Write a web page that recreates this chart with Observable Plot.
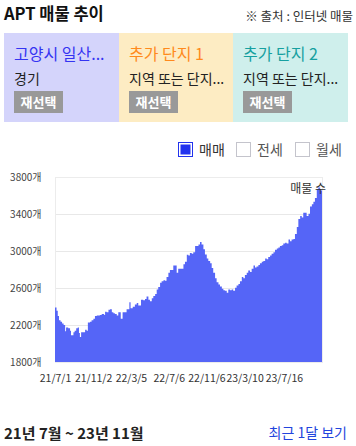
<!DOCTYPE html>
<html><head><meta charset="utf-8">
<script src="https://cdn.jsdelivr.net/npm/d3@7"></script>
<script src="https://cdn.jsdelivr.net/npm/@observablehq/plot@0.6"></script>
<style>
body{margin:0;width:356px;height:446px;position:relative;font-family:"Noto Sans CJK KR","Noto Sans",sans-serif;background:#fff;overflow:hidden;color:#222}
.abs{position:absolute;white-space:nowrap;line-height:1}
.card{position:absolute;top:33px;height:89px}
.btn{position:absolute;left:10px;top:58px;width:49px;height:22px;background:#999;color:#fff;font-weight:bold;font-size:13px;line-height:22px;text-align:center}
.box{position:absolute;top:142px;width:13px;height:13px;border:1px solid #c4c4cc;background:#fff}
#chart{position:absolute;left:0;top:165px}
</style></head>
<body>
<div class="abs" style="left:4px;top:5px;font-size:16.5px;font-weight:bold;color:#111">APT 매물 추이</div>
<div class="abs" style="right:3px;top:10px;font-size:12.5px;color:#333">※ 출처 : 인터넷 매물</div>

<div class="card" style="left:4px;width:115px;background:#d4d4fb">
  <div class="abs" style="left:10px;top:12px;font-size:16px;color:#3434f2">고양시 일산...</div>
  <div class="abs" style="left:10px;top:38px;font-size:14px;color:#222">경기</div>
  <div class="btn">재선택</div>
</div>
<div class="card" style="left:119px;width:114px;background:#fdecc3">
  <div class="abs" style="left:10px;top:12px;font-size:16px;color:#ff8a1c">추가 단지 1</div>
  <div class="abs" style="left:10px;top:38px;font-size:14px;color:#222">지역 또는 단지...</div>
  <div class="btn">재선택</div>
</div>
<div class="card" style="left:233px;width:115px;background:#cfefec">
  <div class="abs" style="left:10px;top:12px;font-size:16px;color:#16a0a0">추가 단지 2</div>
  <div class="abs" style="left:10px;top:38px;font-size:14px;color:#222">지역 또는 단지...</div>
  <div class="btn">재선택</div>
</div>

<div class="box" style="left:178px;background:#2233ee;border:1px solid #2233ee;box-shadow:inset 0 0 0 1.5px #fff"></div>
<div class="abs" style="left:199px;top:142px;font-size:14px;color:#333">매매</div>
<div class="box" style="left:236px"></div>
<div class="abs" style="left:257px;top:142px;font-size:14px;color:#555">전세</div>
<div class="box" style="left:295px"></div>
<div class="abs" style="left:316px;top:142px;font-size:14px;color:#555">월세</div>

<div id="chart"></div>
<div class="abs" style="right:30px;top:182px;font-size:12px;color:#333">매물 수</div>

<div class="abs" style="left:4px;top:425px;font-size:15px;font-weight:bold;color:#222">21년 7월 ~ 23년 11월</div>
<div class="abs" style="right:9px;top:425px;font-size:14px;color:#2244dd">최근 1달 보기</div>

<script>
// days since 2021-07-01
const days = [0,5,9,13,18,23,28,33,36,43,49,52,60,64,69,74,78,81,85,98,103,107,114,119,125,130,136,146,152,160,163,168,174,179,185,190,195,201,206,214,220,233,242,246,253,260,266,271,280,287,293,298,304,309,315,320,326,331,336,342,347,353,358,363,369,374,385,396,401,418,423,429,434,439,445,450,456,467,472,477,483,488,494,499,505,510,515,521,526,532,537,543,548,553,559,564,570,575,580,586,591,597,602,608,613,618,624,629,635,640,646,651,656,662,667,673,678,684,689,694,700,705,711,716,722,727,732,738,743,749,754,760,765,770,776,781,787,792,798,803,808,819,825,830,836,841,846,852,857,863];
const listings = [2388,2354,2296,2251,2234,2217,2200,2132,2173,2166,2138,2090,2121,2138,2166,2173,2114,2070,2121,2149,2138,2227,2234,2251,2268,2296,2303,2309,2320,2309,2344,2337,2364,2371,2337,2326,2320,2303,2337,2268,2337,2371,2446,2381,2398,2422,2439,2412,2473,2467,2480,2508,2473,2456,2490,2514,2535,2583,2610,2658,2672,2685,2678,2720,2764,2795,2843,2764,2808,2856,2884,2959,2952,2979,2969,2986,3054,3071,3096,3071,3020,2962,2918,2891,2867,2815,2764,2706,2662,2638,2617,2593,2576,2569,2549,2583,2576,2583,2569,2603,2627,2644,2672,2720,2706,2740,2764,2788,2774,2808,2843,2822,2833,2850,2867,2884,2891,2918,2911,2935,2952,2969,2986,3013,3027,3037,3054,3061,3082,3089,3082,3123,3106,3123,3130,3184,3260,3345,3379,3362,3414,3379,3403,3482,3506,3533,3574,3670,3687,3653];
const xTicks = ["2021-07-01","2021-11-02","2022-03-05","2022-07-06","2022-11-06","2023-03-10","2023-07-16"];
const yTicks = [1800,2200,2600,3000,3400,3800];
const startDate = "2021-07-01";
const endDate = "2023-11-17";

const t0 = new Date(startDate).getTime();
const data = days.map((d,i)=>({date:new Date(t0 + d*864e5), value:listings[i]}));
const series = data.concat([{date:new Date(endDate), value:listings[listings.length-1]}]);
const fmt = d3.utcFormat("%y/%-m/%-d");

const chart = Plot.plot({
  width:356, height:232,
  marginLeft:55, marginRight:34, marginTop:12, marginBottom:35,
  style:{fontFamily:'"Noto Sans CJK KR","Noto Sans",sans-serif', fontSize:"10px", color:"#333", background:"transparent"},
  x:{type:"utc", domain:[new Date(startDate), new Date(endDate)], ticks:xTicks.map(s=>new Date(s)), tickFormat:fmt, tickSize:0, tickPadding:12, label:null},
  y:{domain:[1800,3800], ticks:yTicks, tickFormat:d=>d+"개", tickSize:0, tickPadding:14, label:null},
  marks:[
    Plot.gridY(yTicks,{stroke:"#e8e8e8", strokeOpacity:1}),
    Plot.frame({stroke:"#ececec"}),
    Plot.areaY(series,{x:"date", y1:1800, y2:"value", curve:"step-after", fill:"#5565f7"}),
    Plot.axisY({ticks:yTicks, tickFormat:d=>d+"개", tickSize:0, tickPadding:14, fill:"#444", fontSize:10}),
    Plot.axisX({ticks:xTicks.map(s=>new Date(s)), tickFormat:fmt, tickSize:0, tickPadding:12, fill:"#333", fontSize:10.5})
  ]
});
document.getElementById("chart").appendChild(chart);
</script>
</body></html>
